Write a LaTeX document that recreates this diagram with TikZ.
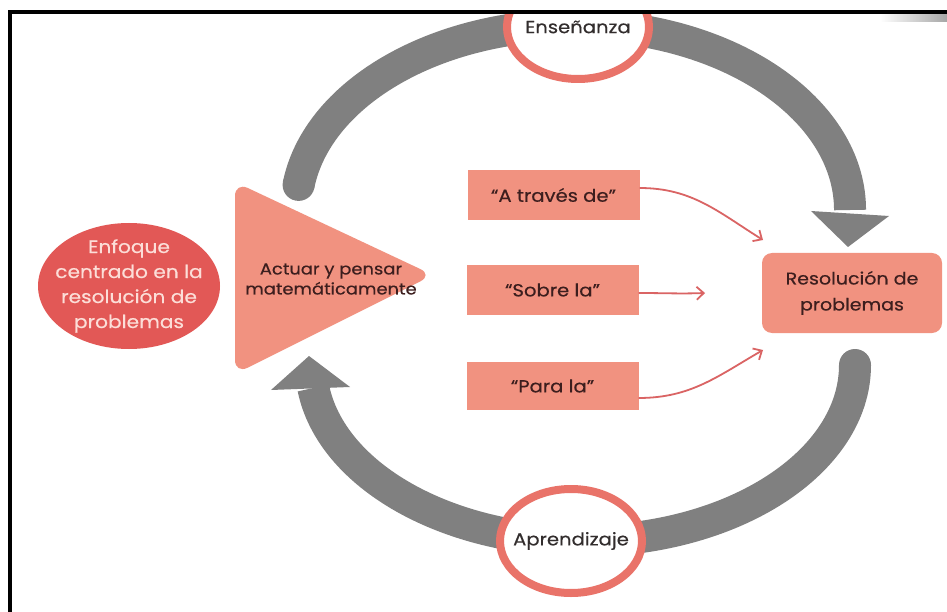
\documentclass[tikz,border=0pt]{standalone}
\usepackage{fontspec}
\setmainfont{Poppins}[FakeStretch=1.12,FakeBold=0.5]
\usetikzlibrary{shapes.geometric,arrows.meta}
\definecolor{salmon}{RGB}{241,146,128}
\definecolor{ringred}{RGB}{233,115,105}
\definecolor{circred}{RGB}{226,88,86}
\definecolor{ringgray}{RGB}{128,128,128}
\definecolor{arrred}{RGB}{218,100,100}
\definecolor{darktxt}{RGB}{50,45,45}
\definecolor{boxtxt}{RGB}{60,30,30}
\definecolor{lighttxt}{RGB}{252,222,216}
\begin{document}
\begin{tikzpicture}[x=1pt,y=-1pt,
  ring/.style={draw=ringgray,line width=32pt},
  ringcap/.style={fill=ringgray},
  ringhead/.style={fill=ringgray},
  phase/.style={ellipse,draw=ringred,line width=8pt,fill=white,minimum width=142pt,minimum height=104pt,inner xsep=-40pt,inner ysep=-10pt,text=darktxt,font=\fontsize{17.5}{20}\selectfont},
  box/.style={fill=salmon,minimum width=172pt,minimum height=50pt,inner sep=0pt,text=boxtxt,font=\fontsize{17.5}{20}\selectfont},
  pa/.style={draw=arrred,line width=1.8pt,-{Straight Barb[length=7pt,width=13pt]}}
]
\useasboundingbox (0,0) rectangle (947,612);
\fill[white] (0,0) rectangle (947,612);
\begin{scope}
\clip (12,14) rectangle (947,612);
% upper gray arc
\coordinate (us) at (298.6,184.9);
\coordinate (ue) at (850,210);
\draw[ring] (us) arc[start angle=187.8,end angle=360,x radius=277,y radius=185];
\fill[ringcap] (us) circle (16);
\coordinate (uh1) at (811,211);
\coordinate (uh2) at (889,216);
\coordinate (ut) at (848,247);
\fill[ringhead] (uh1) -- (uh2) -- (ut) -- cycle;
% lower gray arc
\coordinate (ls) at (855,365);
\draw[ring] (ls) arc[start angle=0,end angle=172.5,x radius=272,y radius=176];
\fill[ringcap] (ls) circle (16);
\coordinate (lh1) at (271,390);
\coordinate (lh2) at (350,387);
\coordinate (lt) at (309,356);
\fill[ringhead] (lh1) -- (lh2) -- (lt) -- cycle;
% phase ellipses
\node[phase] (ens) at (578,27) {Enseñanza};
\node[phase] (apr) at (571,541) {Aprendizaje};
\shade[left color=white,right color=ringgray!70] (880,14) rectangle (947,22);
\end{scope}
% frame
\draw[line width=4pt] (10,612) -- (10,12) -- (947,12);
% left circle
\node[ellipse,fill=circred,minimum width=182pt,minimum height=126pt,inner xsep=-40pt,inner ysep=-30pt,align=center,text=lighttxt,font=\fontsize{18}{25}\selectfont] (enf) at (129,286) {Enfoque\\centrado en la\\resolución de\\problemas};
% triangle
\fill[salmon,rounded corners=14pt] (235,182) -- (433,275) -- (235,374) -- cycle;
\node[align=center,text=boxtxt,font=\fontsize{16}{20}\selectfont] (act) at (331,279) {Actuar y pensar\\matemáticamente};
% boxes
\node[box] (atr) at (553.5,195) {“A través de”};
\node[box] (sob) at (552.5,290) {“Sobre la”};
\node[box,minimum height=48pt] (par) at (552.5,386) {“Para la”};
\node[fill=salmon,rounded corners=10pt,minimum width=180pt,minimum height=80pt,inner sep=0pt,align=center,text=boxtxt,font=\fontsize{17}{26}\selectfont] (res) at (852,293) {Resolución de\\problemas};
% arrows
\coordinate (a1) at (763,240);
\coordinate (a2) at (705,293);
\coordinate (a3) at (763,350);
\draw[pa] (atr.east) ++(0,-7) to[out=0,in=148] (a1);
\draw[pa] (sob.east) ++(0,3) to[out=0,in=182] (a2);
\draw[pa] (par.east) ++(0,12) to[out=0,in=210] (a3);
\end{tikzpicture}
\end{document}
